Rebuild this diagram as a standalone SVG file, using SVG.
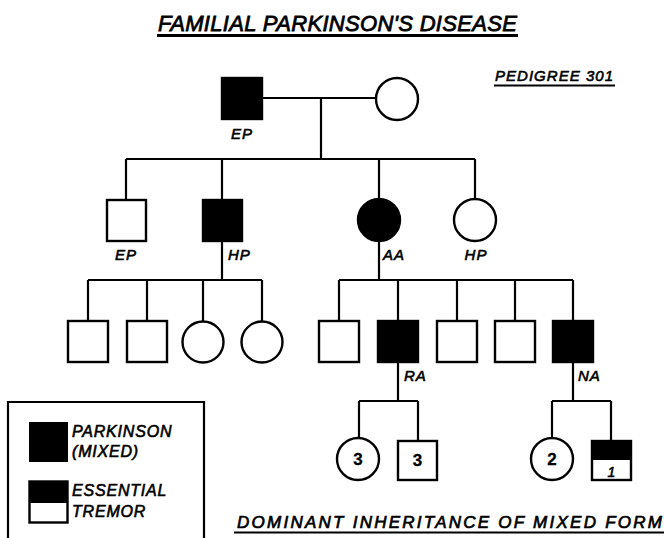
<svg xmlns="http://www.w3.org/2000/svg" width="664" height="538" viewBox="0 0 664 538">
<style>
.bg{fill:#fff}
.open{fill:#fff;stroke:#000;stroke-width:2.4}
.fill{fill:#000;stroke:#000;stroke-width:2.4}
.ln{fill:none;stroke:#000;stroke-width:2.2}
.t{font-family:"Liberation Sans",Arial,sans-serif;font-style:italic;fill:#000;stroke:#000;stroke-width:0.6}
.lab{font-size:15px;letter-spacing:1px}
.num{font-size:17px;font-weight:bold;font-style:normal;text-anchor:middle;stroke-width:0.3}
.head{font-size:22px;stroke-width:0.8}
.cap{font-size:17px;stroke-width:0.7}
.leg{font-size:16px;letter-spacing:0.8px}
</style>
<rect class="bg" x="0" y="0" width="664" height="538"/>

<g id="title">
<text class="t head" x="158" y="31" textLength="359" lengthAdjust="spacing">FAMILIAL PARKINSON'S DISEASE</text>
<line x1="157" y1="35.5" x2="518" y2="35.5" stroke="#000" stroke-width="3"/>
</g>
<g id="pedigree-no">
<text class="t lab" x="495" y="81" textLength="119" lengthAdjust="spacing">PEDIGREE 301</text>
<line x1="494" y1="85.5" x2="615" y2="85.5" stroke="#000" stroke-width="2.2"/>
</g>

<g id="connectors">
<path class="ln" d="M262,98 H376 M321,98 V159 M126,159 H475 M126,159 V200 M222,159 V200 M379,159 V198 M475,159 V198"/>
<path class="ln" d="M222,241 V280 M88,280 H262 M88,280 V321 M147,280 V321 M203,280 V321.5 M262,280 V321.5"/>
<path class="ln" d="M379,241 V280 M339,280 H573 M339,280 V321 M398,280 V321 M457,280 V321 M515,280 V321 M573,280 V321"/>
<path class="ln" d="M398,362 V401 M359,401 H418 M359,401 V438 M418,401 V441"/>
<path class="ln" d="M573,362 V401 M552,401 H611 M552,401 V438 M611,401 V441"/>
</g>

<g id="I-1">
<rect class="fill" x="222" y="78" width="40" height="41"/>
<text class="t lab" x="242" y="139" text-anchor="middle">EP</text>
</g>
<g id="I-2">
<circle class="open" cx="397" cy="99" r="21"/>
</g>

<g id="II-1">
<rect class="open" x="107" y="200" width="39" height="41"/>
<text class="t lab" x="126" y="260" text-anchor="middle">EP</text>
</g>
<g id="II-2">
<rect class="fill" x="203" y="200" width="39" height="41"/>
<text class="t lab" x="228" y="260">HP</text>
</g>
<g id="II-3">
<circle class="fill" cx="379" cy="220" r="21"/>
<text class="t lab" x="383" y="260">AA</text>
</g>
<g id="II-4">
<circle class="open" cx="475" cy="220" r="21"/>
<text class="t lab" x="476" y="260" text-anchor="middle">HP</text>
</g>

<g id="III-1"><rect class="open" x="68" y="321" width="40" height="41"/></g>
<g id="III-2"><rect class="open" x="127" y="321" width="40" height="41"/></g>
<g id="III-3"><circle class="open" cx="203" cy="342" r="20.5"/></g>
<g id="III-4"><circle class="open" cx="262" cy="342" r="20.5"/></g>
<g id="III-5"><rect class="open" x="319" y="321" width="40" height="41"/></g>
<g id="III-6">
<rect class="fill" x="378" y="321" width="40" height="41"/>
<text class="t lab" x="404" y="381">RA</text>
</g>
<g id="III-7"><rect class="open" x="437" y="321" width="40" height="41"/></g>
<g id="III-8"><rect class="open" x="495" y="321" width="40" height="41"/></g>
<g id="III-9">
<rect class="fill" x="553" y="321" width="40" height="41"/>
<text class="t lab" x="578" y="381">NA</text>
</g>

<g id="IV-1">
<circle class="open" cx="358" cy="459" r="21"/>
<text class="t num" x="358" y="465">3</text>
</g>
<g id="IV-2">
<rect class="open" x="398" y="441" width="39" height="39"/>
<text class="t num" x="417.5" y="466">3</text>
</g>
<g id="IV-3">
<circle class="open" cx="552" cy="459" r="21"/>
<text class="t num" x="552" y="465">2</text>
</g>
<g id="IV-4">
<rect class="open" x="592" y="441" width="39" height="39"/>
<rect x="592" y="441" width="39" height="19" fill="#000"/>
<text class="t" x="611.5" y="477" font-size="14" text-anchor="middle">1</text>
</g>

<g id="legend">
<path class="ln" d="M8,545 V402 H204 V545"/>
<rect x="29" y="422" width="39" height="40" fill="#000"/>
<text class="t leg" x="72" y="437">PARKINSON</text>
<text class="t leg" x="72" y="457">(MIXED)</text>
<rect class="open" x="29.5" y="481.5" width="38" height="41" stroke-width="1.8"/>
<rect x="29" y="481" width="39" height="22" fill="#000"/>
<text class="t leg" x="72" y="496">ESSENTIAL</text>
<text class="t leg" x="72" y="517">TREMOR</text>
</g>

<g id="caption">
<text class="t cap" x="237" y="528" textLength="425" lengthAdjust="spacing">DOMINANT  INHERITANCE  OF  MIXED  FORM</text>
<line x1="234" y1="532.5" x2="664" y2="532.5" stroke="#000" stroke-width="2"/>
</g>
</svg>
